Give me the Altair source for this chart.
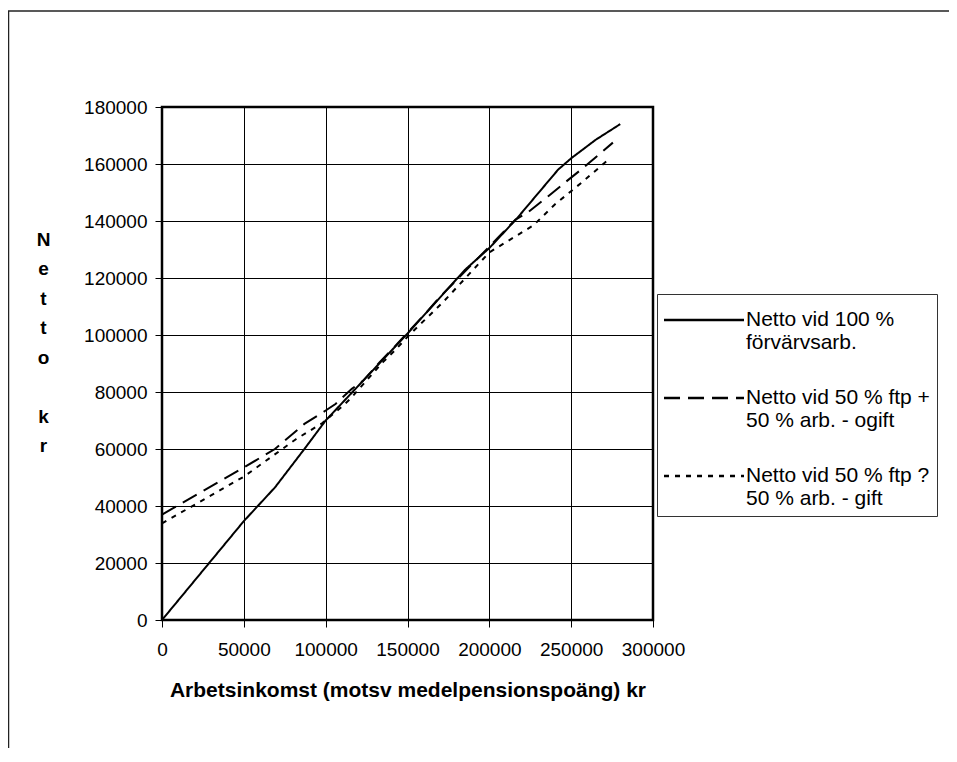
import altair as alt
import pandas as pd

# ---- data ----
series_names = [
    "Netto vid 100 %|förvärvsarb.",
    "Netto vid 50 % ftp +|50 % arb. - ogift",
    "Netto vid 50 % ftp ?|50 % arb. - gift",
]

x_heltid = [0, 50000, 69000, 87000, 100000, 150000, 185000, 192000, 200000, 217000, 242000, 250000, 265000, 280000]
y_heltid = [0, 34700, 46500, 60000, 70000, 100500, 122800, 126400, 130500, 141000, 158000, 162000, 168500, 174000]

x_ogift = [0, 50000, 69000, 87000, 100000, 106000, 116000, 123000, 133000, 142000, 150000, 162000, 170000,
           200000, 216000, 223000, 236000, 246000, 257500, 275500]
y_ogift = [37000, 53500, 60000, 68800, 73500, 75800, 81100, 84000, 90500, 95800, 100800, 108200, 113500,
           131000, 140500, 142800, 148700, 153400, 158700, 167500]

x_gift = [0, 50000, 82000, 98000, 110600, 115000, 135000, 143000, 150000, 172000, 200000, 227000, 240000, 257500, 274000]
y_gift = [33900, 50300, 63500, 69100, 75200, 77600, 90500, 95000, 99400, 111700, 129000, 138500, 145800, 154000, 162200]

x_ticks = [0, 50000, 100000, 150000, 200000, 250000, 300000]
y_ticks = [0, 20000, 40000, 60000, 80000, 100000, 120000, 140000, 160000, 180000]
y_title = ["N", "e", "t", "t", "o", "\u2800", "k", "r"]
x_title = "Arbetsinkomst (motsv medelpensionspoäng) kr"

rows = []
for name, xs, ys in zip(series_names, [x_heltid, x_ogift, x_gift], [y_heltid, y_ogift, y_gift]):
    for i, (a, b) in enumerate(zip(xs, ys)):
        rows.append({"serie": name, "inkomst": a, "netto": b, "ordning": i})
df = pd.DataFrame(rows)

FONT = "Liberation Sans"

lines = alt.Chart(df).mark_line(color="black", strokeWidth=2).encode(
    x=alt.X(
        "inkomst:Q",
        scale=alt.Scale(domain=[0, 300000], nice=False),
        axis=alt.Axis(
            values=x_ticks, format="d", title=x_title, labelOverlap=False, labelFlush=False,
            titleFont=FONT, titleFontSize=21, titleFontWeight="bold", titleColor="black",
            titleBaseline="middle", titleY=70, titleX=245.5, titleAnchor="middle",
            labelPadding=13,
        ),
    ),
    y=alt.Y(
        "netto:Q",
        scale=alt.Scale(domain=[0, 180000], nice=False),
        axis=alt.Axis(
            values=y_ticks, format="d", title=y_title, labelOverlap=False, labelFlush=False,
            titleFont="Liberation Sans, DejaVu Sans", titleFontSize=19, titleFontWeight="bold",
            titleColor="black",
            titleAngle=0, titleAlign="center", titleBaseline="top",
            titleX=-119, titleY=123, titleLineHeight=29.5,
            labelPadding=8,
        ),
    ),
    strokeDash=alt.StrokeDash(
        "serie:N",
        scale=alt.Scale(domain=series_names, range=[[1, 0], [16, 8], [5, 6]]),
        legend=alt.Legend(
            title=None,
            orient="none", legendX=495, legendY=187,
            symbolType="M-1.07,0H3.437", symbolSize=1260, symbolStrokeWidth=2.5,
            symbolStrokeColor="black", symbolFillColor="transparent", symbolOffset=0,
            labelFont=FONT, labelFontSize=21, labelColor="black",
            labelExpr="split(datum.label, '|')", labelLimit=600, labelOffset=44,
            rowPadding=26,
            strokeColor="#333", fillColor="white", padding=7,
        ),
    ),
    order="ordning:Q",
)

frame_df = pd.DataFrame({"k": [0]})
frame_left = alt.Chart(frame_df).mark_rule(color="#222", strokeWidth=1.5).encode(
    x=alt.value(-153.5), y=alt.value(-96), y2=alt.value(700)
)
frame_top = alt.Chart(frame_df).mark_rule(color="#222", strokeWidth=1.5).encode(
    x=alt.value(-154), x2=alt.value(800), y=alt.value(-96)
)

chart = alt.layer(frame_left, frame_top, lines).properties(
    width=491, height=513,
    autosize=alt.AutoSizeParams(type="none"),
    padding={"left": 154, "top": 99, "right": 296, "bottom": 128},
    background="white",
).configure_view(
    stroke="black", strokeWidth=2.5
).configure_axis(
    domain=False, grid=True, gridColor="black", gridWidth=1, gridOpacity=1,
    tickColor="black", tickSize=7, tickWidth=1,
    labelFont=FONT, labelFontSize=19, labelColor="black",
)

chart.save("out.html", embed_options={"renderer": "svg", "actions": False})
